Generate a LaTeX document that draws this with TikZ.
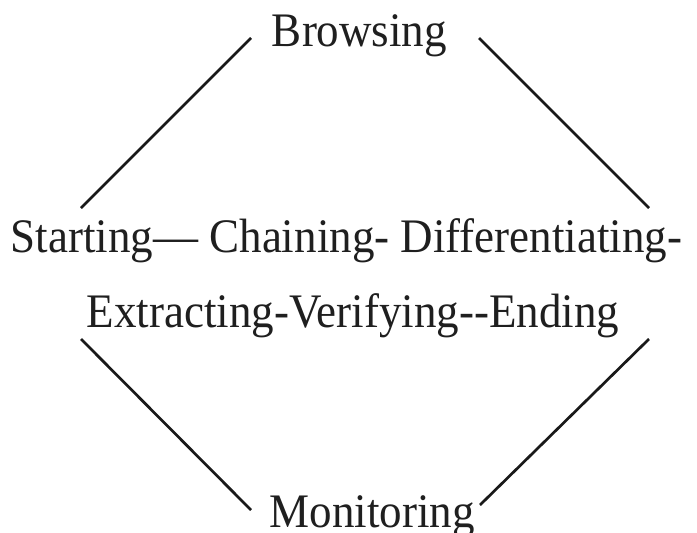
\documentclass[tikz,border=0pt]{standalone}
\usepackage{fontspec}
\setmainfont{Liberation Serif}
\newcommand{\tallword}[1]{\scalebox{1}[1.07]{#1}}
\begin{document}
\begin{tikzpicture}[x=1pt,y=-1pt,
  word/.style={inner sep=0pt,anchor=base,font=\fontsize{45}{54}\selectfont,text=black!88},
  link/.style={line width=2.7pt,black!90}]
\useasboundingbox (0,0) rectangle (697,533);
% stage labels
\node[word] (browsing) at (359.5,46) {\tallword{Browsing}};
\node[word] (line1) at (346.5,252) {\tallword{Starting— Chaining- Differentiating-}};
\node[word] (line2) at (353,327) {\tallword{Extracting-Verifying-{}-Ending}};
\node[word] (monitoring) at (372,527) {\tallword{Monitoring}};
% end points of the four strokes
\coordinate (tl1) at (251,38);  \coordinate (tl2) at (81,208);
\coordinate (tr1) at (479,38);  \coordinate (tr2) at (649,208);
\coordinate (bl1) at (81,339);  \coordinate (bl2) at (251,510);
\coordinate (br1) at (649,339); \coordinate (br2) at (480,505);
\draw[link] (tl1) -- (tl2);
\draw[link] (tr1) -- (tr2);
\draw[link] (bl1) -- (bl2);
\draw[link] (br1) -- (br2);
\end{tikzpicture}
\end{document}
